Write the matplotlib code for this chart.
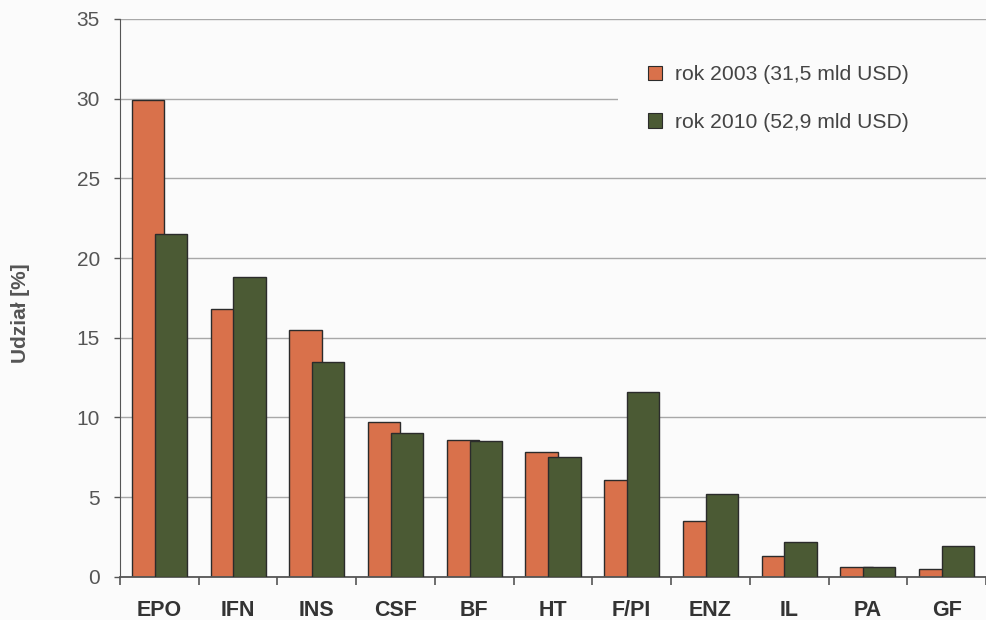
import numpy as np
import matplotlib
matplotlib.use("Agg")
import matplotlib.pyplot as plt
from matplotlib.patches import Patch

categories = ["EPO", "IFN", "INS", "CSF", "BF", "HT", "F/PI", "ENZ", "IL", "PA", "GF"]
share_2003 = [29.9, 16.8, 15.5, 9.7, 8.6, 7.8, 6.1, 3.5, 1.3, 0.6, 0.5]
share_2010 = [21.5, 18.8, 13.5, 9.0, 8.5, 7.5, 11.6, 5.2, 2.2, 0.6, 1.9]
labels = ["rok 2003 (31,5 mld USD)", "rok 2010 (52,9 mld USD)"]

plt.rcParams["font.family"] = ["Liberation Sans", "DejaVu Sans"]
bg = "#fbfbfb"
c03, c10 = "#d9714b", "#4b5a34"
edge = "#2b2b2b"

fig = plt.figure(figsize=(9.86, 6.2), dpi=100, facecolor=bg)
ax = fig.add_axes([120 / 986, 0.0698, 866 / 986, 0.8996], facecolor=bg)

x = np.arange(len(categories))
w = 0.41
ax.bar(x - 0.145, share_2003, w, color=c03, edgecolor=edge, lw=1.0, zorder=2)
ax.bar(x + 0.145, share_2010, w, color=c10, edgecolor=edge, lw=1.0, zorder=3)

ax.set_xlim(-0.5, len(categories) - 0.5)
ax.set_ylim(0, 35)
ax.set_yticks(np.arange(0, 36, 5))
ax.yaxis.grid(True, color="#a8a8a8", lw=1.0, zorder=0)
ax.set_axisbelow(True)

# ticks between groups, labels centred under groups
ax.set_xticks(np.arange(len(categories) + 1) - 0.5)
ax.set_xticklabels([])
ax.set_xticks(x, minor=True)
ax.set_xticklabels(categories, minor=True, fontsize=15.5, fontweight="bold", color="#333333")
ax.tick_params(axis="x", which="minor", length=0, pad=16.5)
ax.tick_params(axis="x", which="major", length=6, width=1.2, color="#555555", direction="out")
ax.tick_params(axis="y", length=4.5, width=1.0, color="#555555", labelsize=15,
               labelcolor="#555555", pad=10)

for s in ["top", "right"]:
    ax.spines[s].set_visible(False)
ax.spines["left"].set_color("#555555")
ax.spines["bottom"].set_color("#555555")
ax.spines["bottom"].set_linewidth(1.3)

fig.text(21 / 986, 1 - 313 / 620, "Udział [%]", rotation=90, ha="center", va="center",
         fontsize=15, fontweight="bold", color="#555555")

handles = [Patch(facecolor=c03, edgecolor=edge, lw=0.8),
           Patch(facecolor=c10, edgecolor=edge, lw=0.8)]
leg = fig.legend(handles, labels, loc="upper left",
                 bbox_to_anchor=(618 / 986, 1 - 42 / 620, 380 / 986, 0.01),
                 mode="expand", fontsize=15.2, frameon=True, facecolor=bg, edgecolor="none",
                 framealpha=1.0, fancybox=False, borderpad=1.4, borderaxespad=0,
                 labelspacing=1.35, handlelength=0.68, handleheight=0.68, handletextpad=0.62)
for t in leg.get_texts():
    t.set_color("#444444")

fig.savefig("out.png", dpi=100, facecolor=bg)
